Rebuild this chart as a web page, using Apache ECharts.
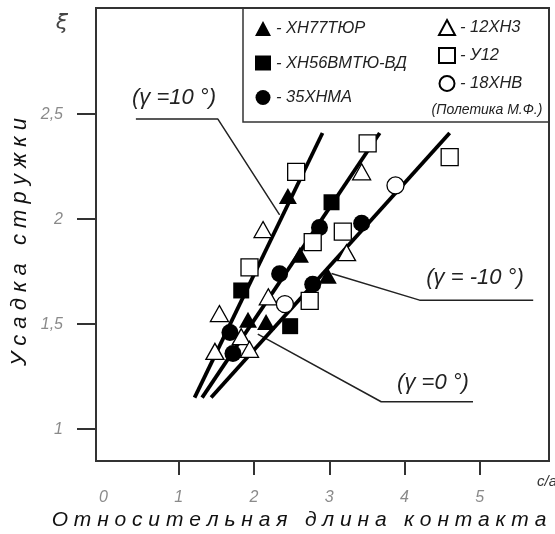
<!DOCTYPE html>
<html><head><meta charset="utf-8">
<script src="https://cdn.jsdelivr.net/npm/echarts@6/dist/echarts.min.js"></script>
<style>html,body{margin:0;padding:0;background:#fff}#c{width:555px;height:534px}</style>
</head><body><div id="c"></div>
<script>
// ---- data ----
const xTickLabels = [0, 1, 2, 3, 4, 5];
const xTicks = [1, 2, 3, 4, 5];
const yTicks = [1, 1.5, 2, 2.5];

const names = ['ХН77ТЮР', 'ХН56ВМТЮ-ВД', '35ХНМА', '12ХН3', 'У12', '18ХНВ'];
const filledTri = [[2.45,2.11],[2.61,1.83],[1.92,1.52],[2.16,1.51],[2.98,1.73]];
const filledSq = [[1.83,1.66],[3.03,2.08],[2.48,1.49]];
const filledCirc = [[2.34,1.74],[1.68,1.46],[1.72,1.36],[2.87,1.96],[3.43,1.98],[2.78,1.69]];
const openTri = [[2.12,1.95],[1.54,1.55],[2.19,1.63],[1.83,1.44],[1.48,1.37],[1.94,1.38],[3.43,2.225],[3.23,1.84]];
const openSq = [[2.56,2.225],[1.94,1.77],[3.51,2.36],[4.60,2.295],[3.18,1.94],[2.78,1.89],[2.74,1.61]];
const openCirc = [[2.41,1.595],[3.88,2.16]];

const line10 = [[1.21,1.15],[2.91,2.41]];
const line0 = [[1.31,1.15],[3.67,2.41]];
const lineM10 = [[1.43,1.15],[4.60,2.41]];

const leader10 = [[0.43,2.476],[1.52,2.476],[2.34,2.02]];
const leaderM10 = [[3.03,1.741],[4.20,1.614],[5.71,1.614]];
const leader0 = [[2.05,1.452],[3.69,1.13],[4.91,1.13]];

// ---- chart ----
const chart = echarts.init(document.getElementById('c'), null, {renderer: 'canvas'});
const tickFont = {fontFamily: 'Liberation Sans', fontStyle: 'italic', fontSize: 16, color: '#8a8a8a'};
const fitLine = (d) => ({type: 'line', data: d, symbol: 'none', silent: true, z: 3,
  lineStyle: {color: '#000', width: 3.8}});
const leader = (d) => ({type: 'line', data: d, symbol: 'none', silent: true, z: 2,
  lineStyle: {color: '#222', width: 1.5}});
const sc = (name, data, symbol, filled, size) => ({
  type: 'scatter', name, data, symbol, symbolSize: size, z: 5,
  itemStyle: {color: filled ? '#000' : '#fff', borderColor: '#000', borderWidth: filled ? 0 : 1.3, opacity: 1}
});

const legendText = {fontFamily: 'Liberation Sans', fontStyle: 'italic', fontSize: 16.5, color: '#222'};

chart.setOption({
  animation: false,
  grid: {left: 96, right: 6, top: 8, bottom: 73, show: true, borderColor: '#333', borderWidth: 2},
  xAxis: {
    type: 'value', min: -0.1, max: 5.92,
    splitLine: {show: false},
    axisLine: {show: true, onZero: false, lineStyle: {color: '#333', width: 2}},
    axisTick: {show: true, customValues: xTicks, length: 14, lineStyle: {color: '#333', width: 2}},
    axisLabel: Object.assign({customValues: xTickLabels, margin: 29}, tickFont)
  },
  yAxis: {
    type: 'value', min: 0.848, max: 3.005,
    splitLine: {show: false},
    axisLine: {show: true, onZero: false, lineStyle: {color: '#333', width: 2}},
    axisTick: {show: true, customValues: yTicks, length: 19, lineStyle: {color: '#333', width: 2}},
    axisLabel: Object.assign({customValues: yTicks, margin: 33,
      formatter: v => String(v).replace('.', ',')}, tickFont)
  },
  legend: [
    {data: names.slice(0, 3), left: 250, top: 15, orient: 'vertical', itemWidth: 16, itemHeight: 15,
     itemGap: 17.5, textStyle: legendText, formatter: n => '- ' + n, selectedMode: false},
    {data: names.slice(3), left: 433, top: 14, orient: 'vertical', itemWidth: 16, itemHeight: 15,
     itemGap: 11, textStyle: legendText, formatter: n => '- ' + n, selectedMode: false}
  ],
  graphic: [
    {type: 'rect', shape: {x: 243, y: 8, width: 306, height: 114}, style: {fill: 'none', stroke: '#333', lineWidth: 1.5}, z: 10},
    {type: 'text', x: 487, y: 110, style: {text: '(Полетика М.Ф.)', font: 'italic 14px "Liberation Sans"', fill: '#222', align: 'center', verticalAlign: 'middle'}},
    {type: 'text', x: 174, y: 98, style: {text: '(γ =10 °)', font: 'italic 22px "Liberation Sans"', fill: '#222', align: 'center', verticalAlign: 'middle'}},
    {type: 'text', x: 475, y: 278, style: {text: '(γ = -10 °)', font: 'italic 22px "Liberation Sans"', fill: '#222', align: 'center', verticalAlign: 'middle'}},
    {type: 'text', x: 433, y: 383, style: {text: '(γ =0 °)', font: 'italic 22px "Liberation Sans"', fill: '#222', align: 'center', verticalAlign: 'middle'}},
    {type: 'text', x: 62, y: 23, style: {text: 'ξ', font: 'italic 22px "DejaVu Sans"', fill: '#444', align: 'center', verticalAlign: 'middle'}},
    {type: 'text', x: 537, y: 482, style: {text: 'c/a', font: 'italic 15px "Liberation Sans"', fill: '#333', align: 'left', verticalAlign: 'middle'}},
    {type: 'text', x: 299, y: 520, style: {text: 'О т н о с и т е л ь н а я   д л и н а   к о н т а к т а', font: 'italic 21px "Liberation Sans"', fill: '#111', align: 'center', verticalAlign: 'middle'}},
    {type: 'text', x: 20, y: 242, rotation: Math.PI / 2, style: {text: 'У с а д к а   с т р у ж к и', font: 'italic 22px "Liberation Sans"', fill: '#111', align: 'center', verticalAlign: 'middle'}}
  ],
  series: [
    fitLine(line10), fitLine(line0), fitLine(lineM10),
    leader(leader10), leader(leaderM10), leader(leader0),
    sc(names[0], filledTri, 'triangle', true, [18, 16]),
    sc(names[1], filledSq, 'rect', true, [16, 16]),
    sc(names[2], filledCirc, 'circle', true, 17),
    sc(names[3], openTri, 'triangle', false, [18, 16]),
    sc(names[4], openSq, 'rect', false, [17, 17]),
    sc(names[5], openCirc, 'circle', false, 17)
  ]
});
</script></body></html>
